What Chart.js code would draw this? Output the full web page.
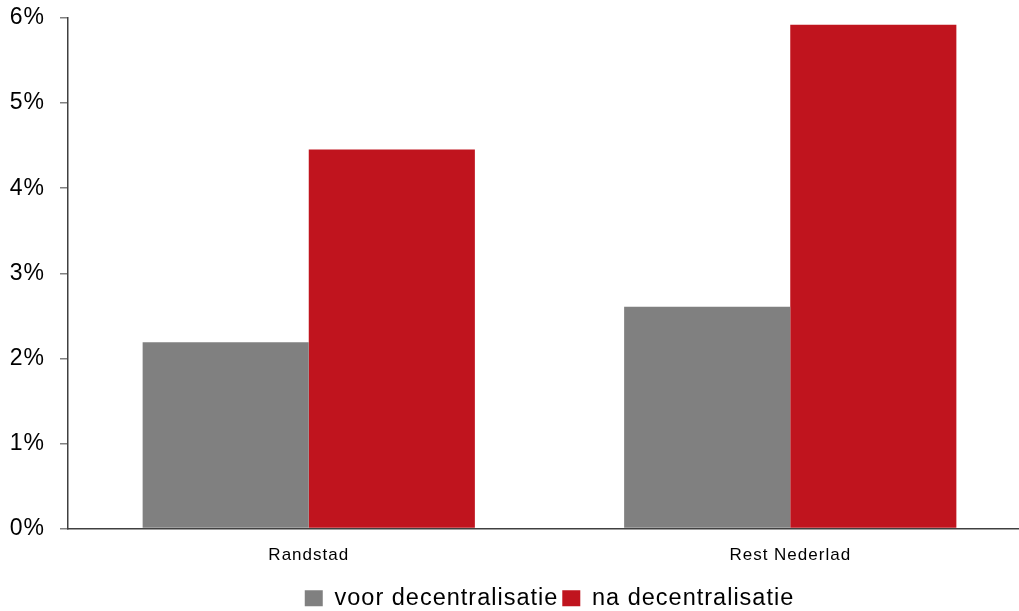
<!DOCTYPE html>
<html>
<head>
<meta charset="utf-8">
<script src="https://cdn.jsdelivr.net/npm/chart.js@4.4.0/dist/chart.umd.min.js"></script>
<style>
  html, body { margin: 0; padding: 0; background: #fff; overflow: hidden; }
  #wrap { position: absolute; left: 0; top: 0; width: 1031px; height: 620px; }
</style>
</head>
<body>
<div id="wrap"><canvas id="c"></canvas></div>
<script>
const categories = ["Randstad", "Rest Nederlad"];
const seriesNames = ["voor decentralisatie", "na decentralisatie"];
const voorValues = [2.19, 2.605];
const naValues = [4.455, 5.92];
const yTicks = [0, 1, 2, 3, 4, 5, 6];

const FONT = "'Liberation Sans', Arial, sans-serif";

const spacingPlugin = {
  id: 'spacing',
  beforeLayout(chart) { chart.ctx.letterSpacing = '1px'; },
  beforeDraw(chart) { chart.ctx.letterSpacing = '1px'; }
};

new Chart(document.getElementById('c'), {
  type: 'bar',
  data: {
    labels: categories,
    datasets: [
      { label: seriesNames[0], data: voorValues, backgroundColor: '#808080', borderWidth: 0 },
      { label: seriesNames[1], data: naValues, backgroundColor: '#c0141e', borderWidth: 0 }
    ]
  },
  plugins: [spacingPlugin],
  options: {
    responsive: true,
    maintainAspectRatio: false,
    animation: false,
    layout: { padding: { top: 18, left: 0, right: 0, bottom: 0 } },
    datasets: { bar: { categoryPercentage: 0.69, barPercentage: 1.0 } },
    plugins: {
      tooltip: { enabled: false },
      legend: {
        position: 'bottom',
        fullSize: false,
        labels: {
          font: { family: FONT, size: 23.5 },
          color: '#000',
          boxWidth: 18,
          boxHeight: 16,
          padding: 4,
          useBorderRadius: false
        }
      }
    },
    scales: {
      x: {
        grid: { display: false, drawTicks: false },
        border: { display: true, color: '#404040', width: 1.5 },
        ticks: { font: { family: FONT, size: 17 }, color: '#000', padding: 17 },
        afterFit: (s) => { s.height = 54; s.paddingLeft = 0; s.paddingRight = 0; }
      },
      y: {
        min: 0,
        max: 6,
        afterBuildTicks: (s) => { s.ticks = yTicks.map(v => ({ value: v })); },
        grid: { drawOnChartArea: false, drawTicks: true, tickLength: 8, color: '#808080', lineWidth: 1.5 },
        border: { display: true, color: '#404040', width: 1.5 },
        ticks: {
          font: { family: FONT, size: 23 },
          color: '#000',
          padding: 15,
          callback: (v) => v + '%'
        },
        afterFit: (s) => { s.width = 68; s.paddingTop = 0; s.paddingBottom = 0; }
      }
    }
  }
});
</script>
</body>
</html>
